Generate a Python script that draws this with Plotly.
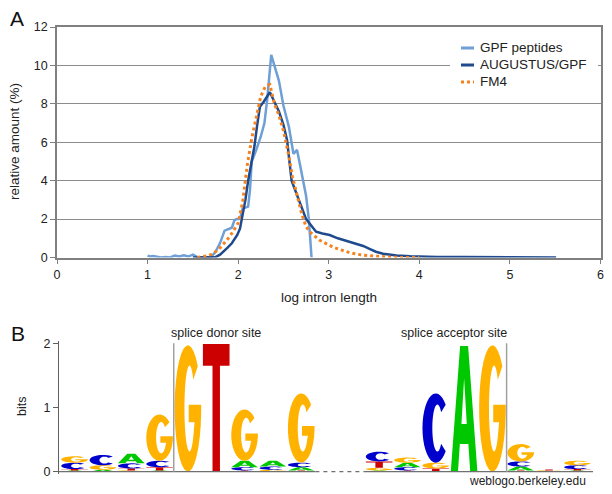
import math
import plotly.graph_objects as go

# ---------------- Panel A data ----------------
gpf_x = [1.00, 1.03, 1.06, 1.10, 1.15, 1.20, 1.25, 1.30, 1.35, 1.40, 1.45, 1.50, 1.55, 1.60, 1.65,
         1.70, 1.75, 1.80, 1.85, 1.875, 1.90, 1.93, 1.96, 1.985, 2.02, 2.05, 2.08, 2.11, 2.13, 2.15,
         2.20, 2.25, 2.29, 2.32, 2.365, 2.41, 2.45, 2.50, 2.56, 2.61, 2.65, 2.68, 2.72, 2.75, 2.78, 2.81]
gpf_y = [0.10, 0.05, 0.08, 0.05, 0.00, 0.03, 0.00, 0.10, 0.05, 0.12, 0.05, 0.15, 0.02, 0.00, 0.00,
         0.02, 0.30, 0.75, 1.40, 1.45, 1.50, 1.55, 1.95, 2.00, 2.00, 2.55, 2.60, 2.65, 3.50, 5.00,
         5.60, 6.30, 7.00, 8.20, 10.55, 9.90, 9.20, 7.90, 6.80, 5.40, 5.60, 4.90, 4.00, 3.20, 2.00, 0.00]

aug_x = [1.50, 1.60, 1.70, 1.75, 1.80, 1.84, 1.88, 1.93, 1.96, 1.99, 2.02, 2.04, 2.06, 2.08, 2.11,
         2.14, 2.18, 2.21, 2.24, 2.28, 2.32, 2.35, 2.38, 2.42, 2.45, 2.50, 2.54, 2.59, 2.63, 2.67,
         2.71, 2.75, 2.80, 2.86, 2.93, 3.01, 3.10, 3.23, 3.30, 3.38, 3.45, 3.52, 3.60, 3.75, 3.90,
         4.00, 4.20, 4.50, 4.80, 5.00, 5.20, 5.51]
aug_y = [0.00, 0.00, 0.00, 0.02, 0.15, 0.30, 0.50, 0.74, 0.95, 1.17, 1.50, 1.95, 2.40, 3.00, 4.00,
         4.80, 5.80, 6.90, 7.85, 8.10, 8.35, 8.60, 8.30, 7.90, 7.60, 6.90, 6.10, 4.00, 3.50, 3.00,
         2.50, 2.00, 1.70, 1.34, 1.25, 1.17, 1.00, 0.82, 0.72, 0.60, 0.45, 0.30, 0.20, 0.10, 0.06,
         0.04, 0.03, 0.02, 0.02, 0.01, 0.01, 0.00]

fm4_x = [1.55, 1.60, 1.65, 1.70, 1.75, 1.80, 1.85, 1.90, 1.95, 2.00, 2.05, 2.10, 2.15, 2.20, 2.25,
         2.30, 2.35, 2.40, 2.45, 2.50, 2.55, 2.60, 2.65, 2.70, 2.75, 2.80, 2.90, 3.05, 3.23, 3.35,
         3.49, 3.60, 3.71, 3.85, 4.00]
fm4_y = [0.00, 0.03, 0.08, 0.15, 0.30, 0.50, 0.75, 1.05, 1.40, 1.80, 2.90, 4.80, 6.20, 7.40, 8.40,
         8.90, 9.00, 8.00, 7.40, 6.60, 5.50, 4.20, 3.20, 2.30, 1.60, 1.30, 0.90, 0.53, 0.25, 0.14,
         0.08, 0.04, 0.01, 0.00, 0.00]

series_names = ["GPF peptides", "AUGUSTUS/GPF", "FM4"]
x_ticks_a = [0, 1, 2, 3, 4, 5, 6]
y_ticks_a = [0, 2, 4, 6, 8, 10, 12]

# ---------------- Panel B data (sequence logo, bits) ----------------
positions = [1, 2, 3, 4, 5, 6, 7, 8, 9,
             11.75, 12.75, 13.75, 14.75, 15.75, 16.75, 17.75, 18.75]
bits_A = [0.02, 0.03, 0.15, 0.02, 0.00, 0.00, 0.10, 0.09, 0.05,
          0.02, 0.07, 0.01, 1.96, 0.00, 0.06, 0.00, 0.02]
bits_C = [0.10, 0.16, 0.08, 0.10, 0.00, 0.00, 0.05, 0.05, 0.07,
          0.15, 0.05, 1.08, 0.00, 0.00, 0.08, 0.01, 0.06]
bits_G = [0.10, 0.07, 0.02, 0.72, 1.97, 0.00, 0.80, 0.03, 1.08,
          0.04, 0.08, 0.09, 0.00, 1.97, 0.27, 0.01, 0.07]
bits_T = [0.02, 0.00, 0.03, 0.05, 0.00, 1.99, 0.02, 0.00, 0.02,
          0.10, 0.02, 0.04, 0.00, 0.00, 0.02, 0.015, 0.02]
site_bounds = [4.5, 16.25]
site_labels = ["splice donor site", "splice acceptor site"]
gap_span = [9.5, 11.25]
y_ticks_b = [0, 1, 2]

LETTER_COLORS = {"A": "#00C800", "C": "#0000CC", "G": "#FFB300", "T": "#CC0000"}
SERIES_COLORS = ["#6E9FD6", "#1F4B8E", "#F5821F"]

# page body has an 8px margin: lay out in window pixels and convert
OFF = 8
W, H = 612 - OFF, 494 - OFF


def px(x):
    return (x - OFF) / W


def py(y):
    return 1 - (y - OFF) / H


# ---------------- glyph outlines (unit box) ----------------
def arc(cx, cy, rx, ry, a0, a1, n=28):
    pts = []
    for i in range(n + 1):
        a = math.radians(a0 + (a1 - a0) * i / n)
        pts.append((cx + rx * math.cos(a), cy + ry * math.sin(a)))
    return pts


def glyph(letter):
    if letter == "C":
        ring = arc(0.5, 0.5, 0.5, 0.5, 42, 318) + arc(0.56, 0.5, 0.19, 0.34, 318, 42)
        return [ring]
    if letter == "G":
        ring = arc(0.5, 0.5, 0.5, 0.5, 42, 356)
        ring += [(1.0, 0.53), (0.53, 0.53), (0.53, 0.39), (0.75, 0.39)]
        ring += arc(0.56, 0.5, 0.19, 0.34, 330, 42)
        return [ring]
    if letter == "A":
        outer = [(0.0, 0.0), (0.35, 1.0), (0.65, 1.0), (1.0, 0.0), (0.73, 0.0),
                 (0.66, 0.22), (0.34, 0.22), (0.27, 0.0)]
        hole = [(0.40, 0.38), (0.60, 0.38), (0.50, 0.74)]
        return [outer, hole]
    return [[(0.0, 1.0), (1.0, 1.0), (1.0, 0.83), (0.64, 0.83), (0.64, 0.0),
             (0.36, 0.0), (0.36, 0.83), (0.0, 0.83)]]


def glyph_path(letter, xc, y0, h, w=0.94):
    parts = []
    for ring in glyph(letter):
        pts = ["%.4f,%.5f" % (xc - w / 2 + u * w, y0 + v * h) for u, v in ring]
        parts.append("M " + " L ".join(pts) + " Z")
    return " ".join(parts)


fig = go.Figure()

LINE_GRAY = "#808080"
FONT = "Arial, Liberation Sans, sans-serif"

series = [(gpf_x, gpf_y, dict(width=2.5)), (aug_x, aug_y, dict(width=2.5)),
          (fm4_x, fm4_y, dict(width=3, dash="dot"))]
for (sx, sy, st), name, col in zip(series, series_names, SERIES_COLORS):
    fig.add_trace(go.Scatter(x=sx, y=sy, mode="lines", name=name,
                             line=dict(color=col, **st), xaxis="x", yaxis="y"))

fig.add_trace(go.Scatter(x=positions, y=[0] * len(positions), mode="markers",
                         marker=dict(opacity=0), showlegend=False, hoverinfo="skip",
                         xaxis="x2", yaxis="y2"))

shapes = []
letters = {"A": bits_A, "C": bits_C, "G": bits_G, "T": bits_T}
for i, pos in enumerate(positions):
    stack = sorted(((letters[k][i], k) for k in "ACGT"), key=lambda t: t[0])
    base = 0.0
    for h, k in stack:
        if h <= 0.004:
            continue
        shapes.append(dict(type="path", xref="x2", yref="y2", path=glyph_path(k, pos, base, h),
                           fillcolor=LETTER_COLORS[k], line=dict(width=0), fillrule="evenodd",
                           layer="above"))
        base += h

shapes.append(dict(type="line", xref="x2", yref="y2", x0=0.45, x1=gap_span[0], y0=0, y1=0,
                   line=dict(color="#707070", width=1.3)))
shapes.append(dict(type="line", xref="x2", yref="y2", x0=gap_span[0], x1=gap_span[1], y0=0, y1=0,
                   line=dict(color="#707070", width=1.3, dash="4px,4px")))
shapes.append(dict(type="line", xref="x2", yref="y2", x0=gap_span[1], x1=19.3, y0=0, y1=0,
                   line=dict(color="#707070", width=1.3)))
for b in site_bounds:
    shapes.append(dict(type="line", xref="x2", yref="y2", x0=b, x1=b, y0=0, y1=2.0,
                       line=dict(color="#A0A0A0", width=1.5)))

# legend (drawn in place, like the original)
shapes.append(dict(type="rect", xref="paper", yref="paper", x0=px(450), x1=px(598),
                   y0=py(92), y1=py(38), fillcolor="white", line=dict(width=0), layer="above"))
leg_y = [48, 65, 82]
leg_dash = ["solid", "solid", "dot"]
annotations = []
for name, col, yy, dsh in zip(series_names, SERIES_COLORS, leg_y, leg_dash):
    shapes.append(dict(type="line", xref="paper", yref="paper", x0=px(461), x1=px(474),
                       y0=py(yy), y1=py(yy), line=dict(color=col, width=3, dash=dsh),
                       layer="above"))
    annotations.append(dict(text=name, xref="paper", yref="paper", x=px(478), y=py(yy),
                            xanchor="left", yanchor="middle", showarrow=False,
                            font=dict(size=13.5, color="#222")))

annotations += [
    dict(text="A", xref="paper", yref="paper", x=px(8), y=py(18), xanchor="left",
         yanchor="middle", showarrow=False, font=dict(size=21, color="#111")),
    dict(text="B", xref="paper", yref="paper", x=px(9), y=py(333), xanchor="left",
         yanchor="middle", showarrow=False, font=dict(size=21, color="#111")),
    dict(text="relative amount (%)", xref="paper", yref="paper", x=px(15), y=py(142),
         xanchor="center", yanchor="middle", textangle=-90, showarrow=False,
         font=dict(size=13.5, color="#222")),
    dict(text="log intron length", xref="paper", yref="paper", x=px(328.5), y=py(297),
         xanchor="center", yanchor="middle", showarrow=False,
         font=dict(size=13.5, color="#222")),
    dict(text="bits", xref="paper", yref="paper", x=px(22), y=py(407),
         xanchor="center", yanchor="middle", textangle=-90, showarrow=False,
         font=dict(size=12.5, color="#222")),
    dict(text=site_labels[0], xref="x2", yref="paper", x=site_bounds[0], xshift=-5,
         y=py(333), xanchor="left", yanchor="middle", showarrow=False,
         font=dict(size=12.5, color="#222")),
    dict(text=site_labels[1], xref="x2", yref="paper", x=site_bounds[1], xshift=2,
         y=py(333), xanchor="right", yanchor="middle", showarrow=False,
         font=dict(size=12.5, color="#222")),
    dict(text="weblogo.berkeley.edu", xref="paper", yref="paper", x=px(588), y=py(481),
         xanchor="right", yanchor="middle", showarrow=False, font=dict(size=12, color="#222")),
]

fig.update_layout(
    width=W, height=H,
    margin=dict(l=0, r=0, t=0, b=0),
    paper_bgcolor="white", plot_bgcolor="white",
    font=dict(family=FONT, size=12.5, color="#222"),
    showlegend=False,
    xaxis=dict(domain=[px(57), px(600.5)], range=[0, 6], tickvals=x_ticks_a,
               showline=True, linecolor=LINE_GRAY, linewidth=1.5, mirror=True,
               ticks="outside", ticklen=5, tickcolor=LINE_GRAY, showgrid=False,
               zeroline=False, automargin=False, anchor="y", tickfont=dict(size=12.5)),
    yaxis=dict(domain=[py(257.5), py(27)], range=[0, 12], tickvals=y_ticks_a,
               showline=True, linecolor=LINE_GRAY, linewidth=1.5, mirror=True,
               ticks="outside", ticklen=5, tickcolor=LINE_GRAY, showgrid=True,
               gridcolor="#8C8C8C", gridwidth=1, zeroline=False, automargin=False,
               anchor="x", tickfont=dict(size=12.5)),
    xaxis2=dict(domain=[px(59), px(593)], range=[0.45, 19.3], visible=False, anchor="y2"),
    yaxis2=dict(domain=[py(473.6), py(341.4)], range=[-0.03, 2.03],
                tickvals=y_ticks_b, showline=True, linecolor="#606060", linewidth=1.3,
                ticks="outside", ticklen=5, tickcolor="#606060", showgrid=False,
                zeroline=False, automargin=False, anchor="x2", tickfont=dict(size=12.5)),
    shapes=shapes,
    annotations=annotations,
)

fig.write_html("out.html")
